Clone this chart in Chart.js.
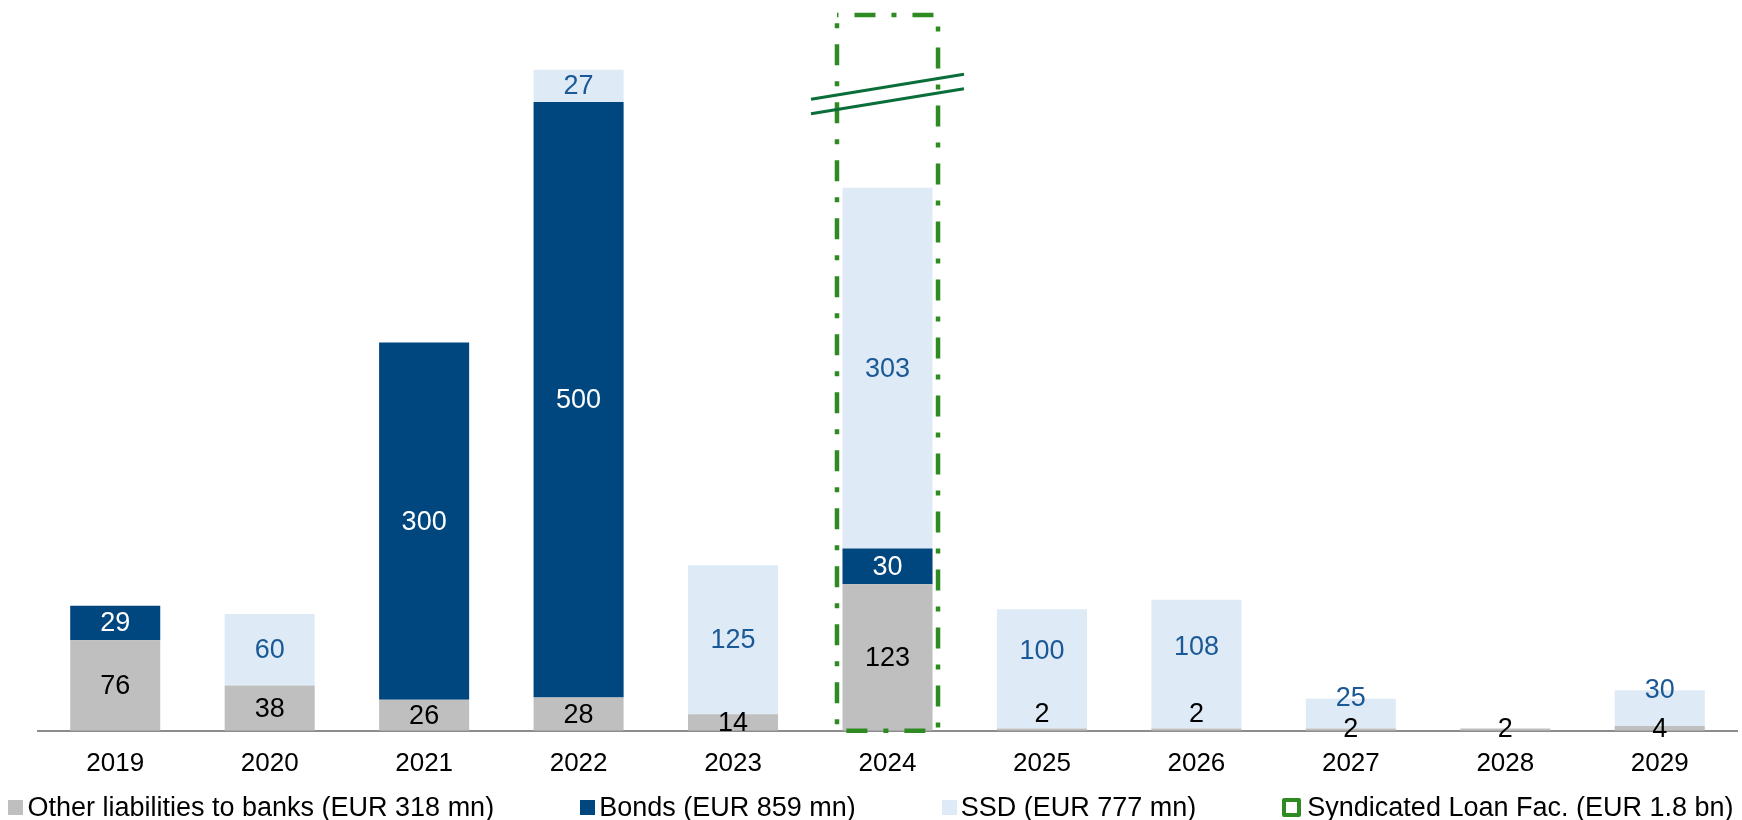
<!DOCTYPE html>
<html lang="en">
<head>
<meta charset="UTF-8">
<script src="https://cdn.jsdelivr.net/npm/chart.js"></script>
<style>
  html, body { margin: 0; padding: 0; background: #ffffff; }
  #wrap { position: relative; width: 1742px; height: 820px; overflow: hidden; }
  #legend {
    position: absolute; left: 0; top: 792px;
    display: flex; justify-content: center; align-items: center; gap: 86px;
    width: 1742px; height: 30px;
    font-family: "Liberation Sans", Arial, sans-serif; font-size: 27px; color: #000;
    white-space: nowrap;
  }
  .item { display: flex; align-items: center; }
  .box { width: 15px; height: 15px; margin-right: 4px; box-sizing: border-box; }
</style>
</head>
<body>
<div id="wrap">
  <canvas id="chart" width="1742" height="820"></canvas>
  <div id="legend"></div>
</div>
<script>
// maturity profile, EUR mn
const years = ['2019', '2020', '2021', '2022', '2023', '2024', '2025', '2026', '2027', '2028', '2029'];
const otherBanks = [76, 38, 26, 28, 14, 123, 2, 2, 2, 2, 4];
const bonds = [29, null, 300, 500, null, 30, null, null, null, null, null];
const ssd = [null, 60, null, 27, 125, 303, 100, 108, 25, null, 30];
const loanFacility = [null, null, null, null, null, 1800, null, null, null, null, null];
const seriesNames = [
  'Other liabilities to banks (EUR 318 mn)',
  'Bonds (EUR 859 mn)',
  'SSD (EUR 777 mn)',
  'Syndicated Loan Fac. (EUR 1.8 bn)'
];

const colors = ['#bfbfbf', '#00467f', '#deebf7'];
const labelColors = ['#000000', '#ffffff', '#1b5896'];
const loanGreen = '#2e8b22';
const breakGreen = '#0a6e3a';
const font = '"Liberation Sans", Arial, sans-serif';

// value labels centred in each segment; tiny bottom segments get nudged like the original
const segmentLabels = {
  id: 'segmentLabels',
  afterDatasetsDraw(chart) {
    const ctx = chart.ctx;
    const metas = chart.data.datasets.map((d, i) => chart.getDatasetMeta(i));
    ctx.save();
    ctx.font = '27px ' + font;
    ctx.textAlign = 'center';
    ctx.textBaseline = 'middle';
    years.forEach((_, i) => {
      const pos = metas.map((m, k) => {
        const v = chart.data.datasets[k].data[i];
        const el = m.data[i];
        if (v == null || !el) return null;
        return { x: el.x, top: el.y, base: el.base, y: (el.y + el.base) / 2, v };
      });
      const low = pos[0], high = pos[2];
      if (low && low.base - low.top < 12) {
        if (high && high.base - high.top > 60) {
          low.y = low.base - 17;
          high.y -= 18;
        } else {
          low.y = low.base - 2;
          if (high) high.y = high.top - 1;
        }
      }
      pos.forEach((p, k) => {
        if (!p) return;
        ctx.fillStyle = labelColors[k];
        ctx.fillText(String(p.v), p.x, p.y + 1);
      });
    });
    ctx.restore();
  }
};

// dash-dot frame for the syndicated loan facility, cut off with a break mark
const loanBox = {
  id: 'loanBox',
  afterDatasetsDraw(chart) {
    const { ctx, chartArea, scales: { x, y } } = chart;
    const ref = chart.getDatasetMeta(0).data;
    loanFacility.forEach((v, i) => {
      if (v == null) return;
      const cx = x.getPixelForValue(i);
      const half = ref[i].width / 2 + 5.5;
      const top = Math.max(y.getPixelForValue(v), chartArea.top);
      const bottom = y.getPixelForValue(0);
      ctx.save();
      ctx.strokeStyle = loanGreen;
      ctx.lineWidth = 4.5;
      ctx.setLineDash([5, 16, 21, 16]);
      ctx.lineDashOffset = 3.5;
      ctx.strokeRect(cx - half, top, half * 2, bottom - top);
      ctx.setLineDash([]);
      ctx.strokeStyle = breakGreen;
      ctx.lineWidth = 3;
      const midY = chartArea.top + 79;
      const slope = -0.163;
      [-7.25, 7.25].forEach(off => {
        ctx.beginPath();
        ctx.moveTo(cx - 76.5, midY + off - slope * 76.5);
        ctx.lineTo(cx + 76.5, midY + off + slope * 76.5);
        ctx.stroke();
      });
      ctx.restore();
    });
  }
};

const datasets = [otherBanks, bonds, ssd].map((data, k) => ({
  label: seriesNames[k],
  data,
  backgroundColor: colors[k],
  borderWidth: 0,
  barPercentage: 0.583,
  categoryPercentage: 1
}));

new Chart(document.getElementById('chart'), {
  type: 'bar',
  data: { labels: years, datasets },
  options: {
    responsive: false,
    animation: false,
    devicePixelRatio: 1,
    layout: { padding: { top: 15, left: 38, right: 5, bottom: 24 } },
    plugins: { legend: { display: false }, tooltip: { enabled: false } },
    scales: {
      x: {
        stacked: true,
        grid: { display: false, drawTicks: false },
        border: { display: true, color: '#8c8c8c', width: 2 },
        ticks: { color: '#000', font: { family: font, size: 26 }, padding: 17 }
      },
      y: { stacked: true, display: false, min: 0, max: 601 }
    }
  },
  plugins: [segmentLabels, loanBox]
});

// legend below the plot
const legend = document.getElementById('legend');
seriesNames.forEach((name, k) => {
  const item = document.createElement('div');
  item.className = 'item';
  const box = document.createElement('span');
  box.className = 'box';
  if (k < 3) {
    box.style.background = colors[k];
  } else {
    box.style.width = '19px';
    box.style.height = '19px';
    box.style.border = '4.5px solid ' + loanGreen;
    box.style.borderRadius = '2px';
    box.style.marginRight = '6px';
  }
  const txt = document.createElement('span');
  txt.textContent = name;
  item.appendChild(box);
  item.appendChild(txt);
  legend.appendChild(item);
});
</script>
</body>
</html>
